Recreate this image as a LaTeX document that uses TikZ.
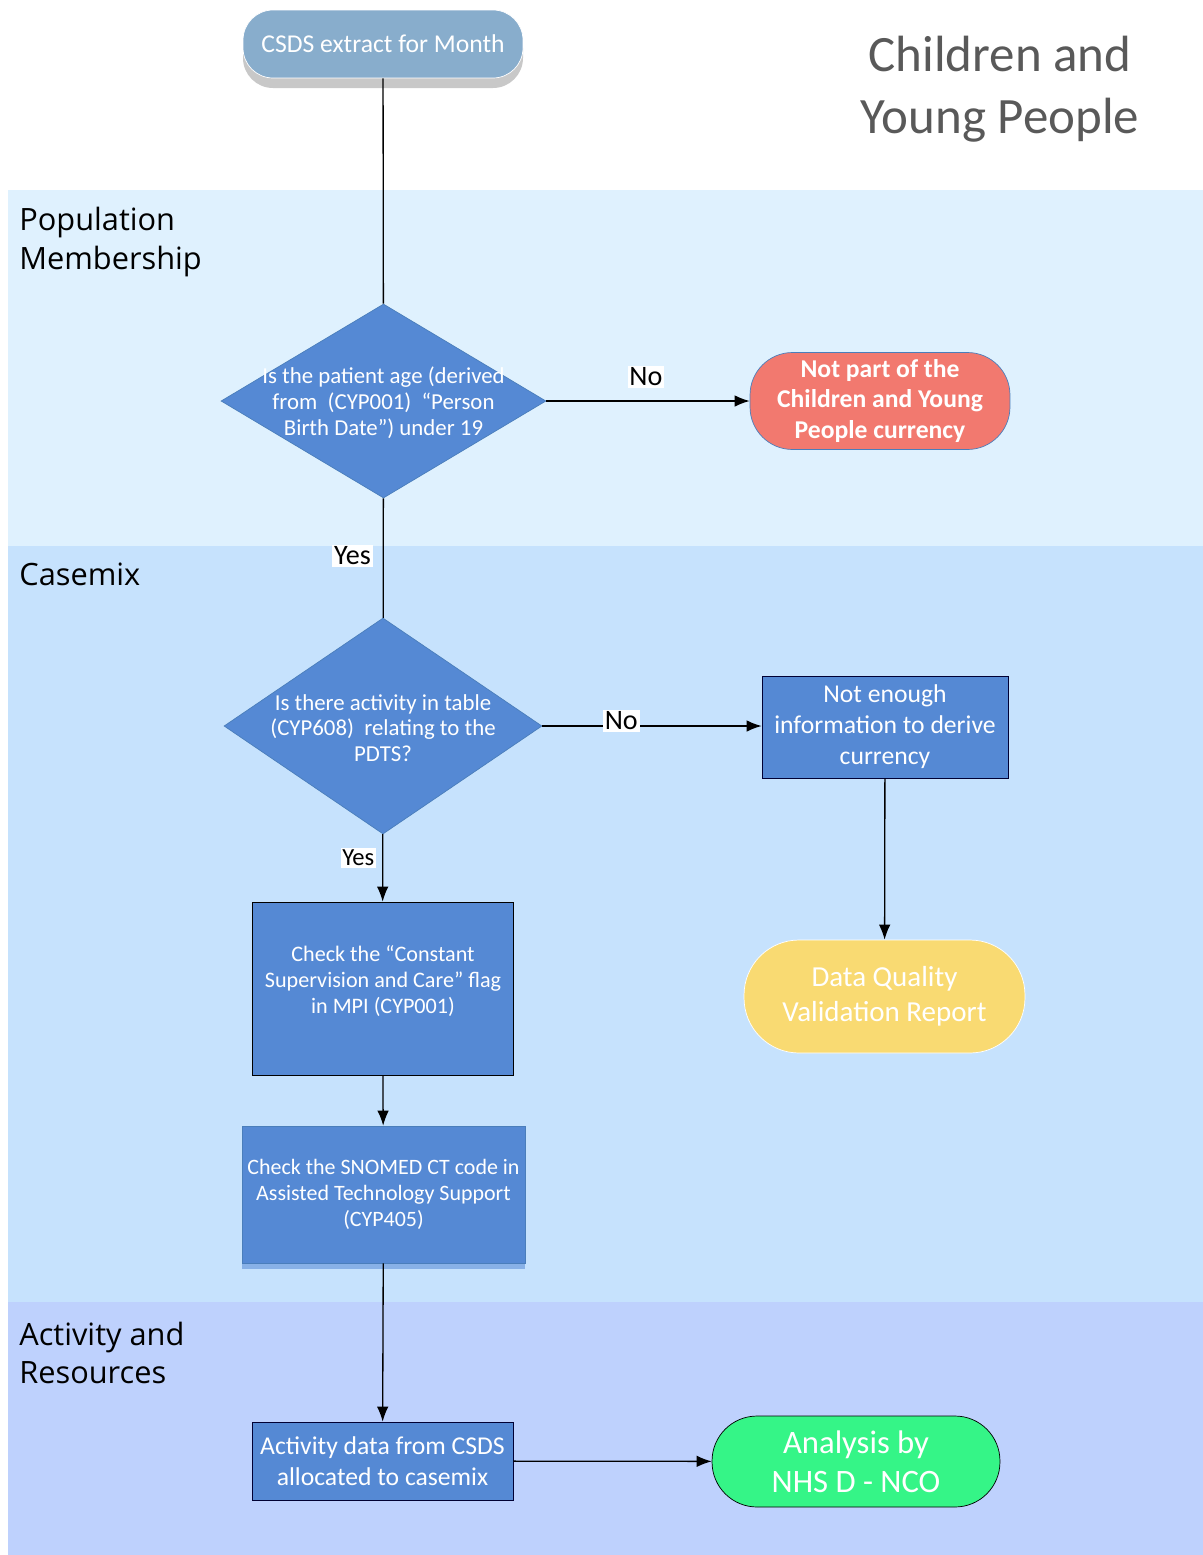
\documentclass[tikz,border=0pt]{standalone}
\usepackage{fontspec}
\setmainfont{Carlito}
\newfontfamily\lanefont{Open Sans}
\usepackage{xcolor}
\usetikzlibrary{calc, shapes.geometric, arrows.meta, positioning}

\definecolor{laneA}{HTML}{DFF1FE}
\definecolor{laneB}{HTML}{C6E2FD}
\definecolor{laneC}{HTML}{BED1FD}
\definecolor{boxblue}{HTML}{5589D4}
\definecolor{diaedge}{HTML}{4A7EBB}
\definecolor{startblue}{HTML}{88ADCC}
\definecolor{shadowgrey}{HTML}{C8C8C8}
\definecolor{termred}{HTML}{F2796F}
\definecolor{termyellow}{HTML}{F9DA72}
\definecolor{termgreen}{HTML}{35F587}
\definecolor{titlegrey}{HTML}{595959}

\begin{document}
\begin{tikzpicture}[x=0.02cm, y=-0.02cm,
  >={Latex[length=0.3cm, width=0.23cm]},
  flow/.style={line width=0.75pt},
  proc/.style={rectangle, fill=boxblue, text=white, align=center, inner sep=0pt,
    font=\fontsize{12.5}{15}\selectfont},
  decision/.style={diamond, draw=diaedge, fill=boxblue, inner sep=0pt},
  dtext/.style={text=white, align=center, inner sep=0pt,
    font=\fontsize{13}{14.7}\selectfont},
  term/.style={rectangle, text=white, align=center, inner sep=0pt},
  lbl/.style={fill=white, text=black, inner sep=1pt, font=\fontsize{16}{18}\selectfont},
  lane/.style={anchor=west, align=left, inner sep=0pt,
    font=\lanefont\fontsize{17.5}{21.8}\selectfont}]
  \useasboundingbox (0,0) rectangle (1203,1555);

  % swim lanes
  \foreach \ya/\yb/\col in {190/546/laneA, 546/1302/laneB, 1302/1555/laneC}
    \fill[\col] (8,\ya) rectangle (1203,\yb);
  \node[lane] (popl) at (19,242) {Population\\Membership};
  \node[lane] (casel) at (19,574) {Casemix};
  \node[lane] (actl) at (19,1353) {Activity and\\Resources};

  \node[align=center, text=titlegrey, inner sep=0pt,
    font=\fontsize{29}{35}\selectfont] (title) at (1000,89) {Children and\\Young People};

  % start
  \fill[shadowgrey, rounded corners=0.6cm] (243,18) rectangle (523,88);
  \node[term, draw=white, fill=startblue, rounded corners=0.6cm,
    minimum width=5.6cm, minimum height=1.36cm,
    font=\fontsize{14.6}{17}\selectfont] (start) at (383,44) {CSDS extract for Month};

  % decisions
  \node[decision, minimum width=6.5cm, minimum height=3.88cm] (age) at (383.5,401) {};
  \node[dtext] (agetxt) at (383.5,403) {Is the patient age (derived\\from\ \ (CYP001)\ \ “Person\\Birth Date”) under 19};
  \node[decision, minimum width=6.36cm, minimum height=4.32cm] (act) at (383,726) {};
  \node[dtext] (acttxt) at (383,728) {Is there activity in table\\(CYP608)\ \ relating to the\\PDTS?};

  % terminals
  \node[term, draw=diaedge, fill=termred, rounded corners=0.85cm,
    minimum width=5.2cm, minimum height=1.94cm,
    font=\bfseries\fontsize{14.6}{17.6}\selectfont] (notcyp) at (880,401)
    {Not part of the\\Children and Young\\People currency};
  \node[term, draw=white, fill=termyellow, rounded corners=1.1cm,
    minimum width=5.62cm, minimum height=2.26cm,
    font=\fontsize{16.5}{19.8}\selectfont] (dq) at (884.5,996.5)
    {Data Quality\\Validation Report};
  \node[term, draw=black, fill=termgreen, rounded corners=0.9cm,
    minimum width=5.76cm, minimum height=1.82cm,
    font=\fontsize{18.6}{22}\selectfont] (nco) at (856,1461.5)
    {Analysis by\\NHS D - NCO};

  % processes
  \node[proc, draw=black!80!blue, minimum width=4.92cm, minimum height=2.04cm,
    font=\fontsize{14.6}{17.6}\selectfont] (noinfo) at (885,727)
    {Not enough\\information to derive\\currency};
  \node[proc, draw=black, minimum width=5.22cm, minimum height=3.46cm] (csc) at (382.5,988.5) {};
  \node[dtext, font=\fontsize{12.6}{15}\selectfont] (csctxt) at (383,981)
    {Check the “Constant\\Supervision and Care” flag\\in MPI (CYP001)};
  \fill[boxblue!55!laneB] (242,1263) rectangle (525,1269);
  \node[proc, draw=diaedge, minimum width=5.66cm, minimum height=2.74cm] (snomed) at (383.5,1194.5)
    {Check the SNOMED CT code in\\Assisted Technology Support\\(CYP405)};
  \node[proc, draw=black!80!blue, minimum width=5.22cm, minimum height=1.56cm,
    font=\fontsize{14.6}{17.6}\selectfont] (actdata) at (382.5,1461)
    {Activity data from CSDS\\allocated to casemix};

  % connectors
  \draw[flow] (start) -- (age);
  \draw[flow, ->] (age.east) -- (age.east -| notcyp.west)
    node[lbl, pos=0.49, above=0.25cm] {No};
  \draw[flow] (age) -- (act)
    node[lbl, pos=0.48, left=0.2cm] {Yes};
  \draw[flow, ->] (act.east) -- (act.east -| noinfo.west)
    node[lbl, pos=0.36, yshift=0.1cm] {No};
  \draw[flow, ->] (noinfo) -- (dq);
  \draw[flow, ->] (act) -- (csc)
    node[lbl, pos=0.35, left=0.12cm, font=\fontsize{14}{16}\selectfont] {Yes};
  \draw[flow, ->] (csc) -- (snomed);
  \draw[flow, ->] (snomed) -- (actdata);
  \draw[flow, ->] (actdata) -- (nco);
\end{tikzpicture}
\end{document}
